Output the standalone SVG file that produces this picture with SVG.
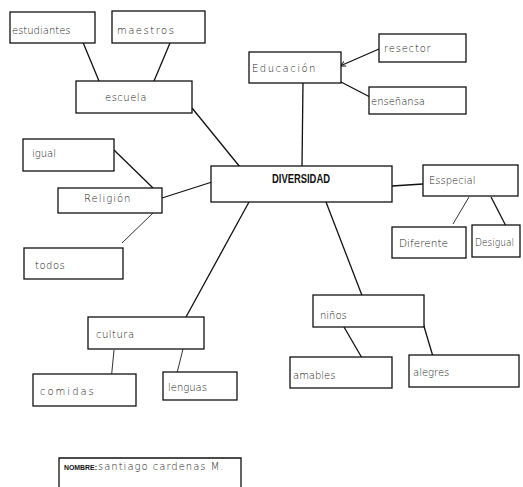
<svg xmlns="http://www.w3.org/2000/svg" width="523" height="487" viewBox="0 0 523 487">
<style>
.box{fill:#fff;stroke:#111;stroke-width:1.3}
.t{font-family:"DejaVu Sans","Liberation Sans",sans-serif;font-size:10px;fill:#222;font-weight:300}
.c{stroke:#111;stroke-width:1.3;fill:none}
.thin{stroke:#333;stroke-width:1;fill:none}
</style>
<defs>
<marker id="ah" viewBox="0 0 10 10" refX="9" refY="5" markerWidth="5" markerHeight="5" orient="auto">
<path d="M0,1 L9,5 L0,9" fill="none" stroke="#111" stroke-width="1.5"/>
</marker>
</defs>
<rect width="523" height="487" fill="#fff"/>
<g id="connectors">
<line class="c" x1="82" y1="40" x2="99" y2="81"/>
<line class="c" x1="170" y1="43" x2="154" y2="81"/>
<line class="c" x1="192" y1="108" x2="240" y2="167"/>
<line class="c" x1="379" y1="49" x2="340" y2="66" marker-end="url(#ah)"/>
<line class="c" x1="341" y1="82" x2="370" y2="97"/>
<line class="c" x1="303" y1="83" x2="302" y2="166"/>
<line class="c" x1="114" y1="150" x2="153" y2="188"/>
<line class="thin" x1="153" y1="213" x2="122" y2="243"/>
<line class="c" x1="162" y1="198" x2="212" y2="182"/>
<line class="c" x1="249" y1="202" x2="186" y2="317"/>
<line class="thin" x1="114" y1="350" x2="111" y2="381"/>
<line class="thin" x1="183" y1="349" x2="177" y2="373"/>
<line class="c" x1="392" y1="186" x2="423" y2="184"/>
<line class="thin" x1="469" y1="197" x2="453" y2="224"/>
<line class="c" x1="491" y1="197" x2="507" y2="228"/>
<line class="c" x1="326" y1="202" x2="363" y2="298"/>
<line class="c" x1="344" y1="327" x2="362" y2="358"/>
<line class="c" x1="423" y1="323" x2="434" y2="360"/>
</g>
<g id="n-estudiantes"><rect class="box" x="10" y="12" width="85" height="31"/><text class="t" x="12" y="34">estudiantes</text></g>
<g id="n-maestros"><rect class="box" x="112" y="11" width="93" height="32"/><text class="t" x="117" y="34" letter-spacing="1.5">maestros</text></g>
<g id="n-escuela"><rect class="box" x="76" y="81" width="116" height="32"/><text class="t" x="105" y="101" letter-spacing="0.5">escuela</text></g>
<g id="n-educacion"><rect class="box" x="249" y="52" width="92" height="31"/><text class="t" x="252" y="72" letter-spacing="1.5">Educación</text></g>
<g id="n-resector"><rect class="box" x="379" y="34" width="87" height="28"/><text class="t" x="384" y="52" letter-spacing="0.8">resector</text></g>
<g id="n-ensenansa"><rect class="box" x="369" y="87" width="97" height="27"/><text class="t" x="371" y="105" font-size="9">enseñansa</text></g>
<g id="n-igual"><rect class="box" x="23" y="139" width="91" height="32"/><text class="t" x="32" y="157">igual</text></g>
<g id="n-religion"><rect class="box" x="58" y="188" width="104" height="25"/><text class="t" x="84" y="202" letter-spacing="1">Religión</text></g>
<g id="n-todos"><rect class="box" x="24" y="248" width="99" height="31"/><text class="t" x="35" y="269" letter-spacing="0.5">todos</text></g>
<g id="n-diversidad"><rect class="box" x="211" y="166" width="181" height="36"/><text x="272" y="183" font-family="Liberation Sans,Arial,sans-serif" font-weight="bold" font-size="13" textLength="58" lengthAdjust="spacingAndGlyphs" fill="#111">DIVERSIDAD</text></g>
<g id="n-especial"><rect class="box" x="423" y="165" width="95" height="31"/><text class="t" x="429" y="184" font-size="11">Esspecial</text></g>
<g id="n-diferente"><rect class="box" x="392" y="227" width="74" height="31"/><text class="t" x="399" y="247" font-size="9" textLength="49" lengthAdjust="spacingAndGlyphs">Diferente</text></g>
<g id="n-desigual"><rect class="box" x="472" y="225" width="48" height="32"/><text class="t" x="475" y="246" font-size="9" textLength="39" lengthAdjust="spacingAndGlyphs">Desigual</text></g>
<g id="n-cultura"><rect class="box" x="88" y="317" width="116" height="32"/><text class="t" x="96" y="338" letter-spacing="0.5">cultura</text></g>
<g id="n-comidas"><rect class="box" x="33" y="374" width="103" height="32"/><text class="t" x="40" y="395" letter-spacing="2">comidas</text></g>
<g id="n-lenguas"><rect class="box" x="163" y="372" width="74" height="28"/><text class="t" x="168" y="391">lenguas</text></g>
<g id="n-ninos"><rect class="box" x="313" y="295" width="111" height="32"/><text class="t" x="320" y="319">niños</text></g>
<g id="n-amables"><rect class="box" x="290" y="357" width="102" height="31"/><text class="t" x="293" y="379">amables</text></g>
<g id="n-alegres"><rect class="box" x="409" y="355" width="110" height="32"/><text class="t" x="413" y="376" font-size="11">alegres</text></g>
<g id="nombre">
<path class="c" d="M59,487 V458 H241 V487"/>
<text x="64" y="470" font-family="Liberation Sans,Arial,sans-serif" font-weight="bold" font-size="7" fill="#111" textLength="33" lengthAdjust="spacingAndGlyphs">NOMBRE:</text>
<text class="t" x="98" y="470" font-size="11" letter-spacing="1">santiago  cardenas  M.</text>
</g>
</svg>
